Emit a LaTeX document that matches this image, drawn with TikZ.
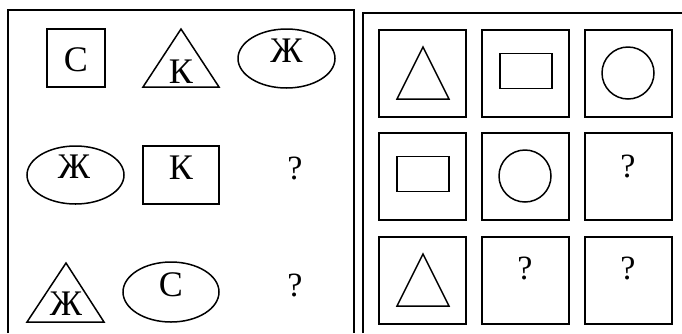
\documentclass[tikz,border=0pt]{standalone}
\usepackage{fontspec}
\setmainfont{Liberation Serif}

\tikzset{
  frame/.style={line width=1.8pt},
  fig/.style={line width=1.5pt},
  letter/.style={inner sep=0pt, font=\fontsize{36}{38}\selectfont},
  qmark/.style={inner sep=0pt, font=\fontsize{34}{36}\selectfont},
}

\begin{document}
\begin{tikzpicture}[x=1pt,y=-1pt]
  \useasboundingbox (0,0) rectangle (682,333);

  % Left panel: letters in figures
  \draw[frame] (8,333) -- (8,10) -- (354,10) -- (354,333);
  % row 1
  \draw[fig] (47,29) rectangle (105,87);
  \node[letter] (es1) at (76,60) {С};
  \draw[fig] (143,87) -- (181,29) -- (219,87) -- cycle;
  \node[letter] (ka1) at (181,71.5) {К};
  \draw[fig] (286.5,58.5) ellipse [x radius=48.5, y radius=29.5];
  \node[letter] (zhe1) at (286.5,50.5) {Ж};
  % row 2
  \draw[fig] (75.5,175) ellipse [x radius=48.5, y radius=29];
  \node[letter] (zhe2) at (74,167) {Ж};
  \draw[fig] (143,146) rectangle (219,204);
  \node[letter] (ka2) at (181,167.5) {К};
  \node[qmark] (q1) at (295,168) {?};
  % row 3
  \draw[fig] (27,322) -- (66,263) -- (104,322) -- cycle;
  \node[letter] (zhe3) at (66,304) {Ж};
  \draw[fig] (171,292) ellipse [x radius=48, y radius=30];
  \node[letter] (es3) at (171,285) {С};
  \node[qmark] (q2) at (295,285) {?};

  % Right panel: 3x3 grid of cells
  \draw[frame] (363,333) -- (363,13) -- (682,13);
  \foreach \cx in {379,482,585}
    \foreach \cy in {30,133,237}
      \draw[frame] (\cx,\cy) rectangle ++(87,87);
  % triangles
  \foreach \cy in {30,237}
    \draw[fig] (397,\cy+69) -- (423,\cy+17) -- (449,\cy+69) -- cycle;
  % rectangles
  \foreach \cx/\cy in {482/30,379/133}
    \draw[fig] (\cx+18,\cy+23.5) rectangle ++(52,35);
  % circles
  \foreach \cx/\cy in {585/30,482/133}
    \draw[fig] (\cx+43,\cy+43) circle [radius=26];
  % missing cells
  \foreach \cx/\cy/\dy/\n in {585/133/33.5/a,482/237/31/b,585/237/31/c}
    \node[qmark] (cell\n) at (\cx+43,\cy+\dy) {?};
\end{tikzpicture}
\end{document}
